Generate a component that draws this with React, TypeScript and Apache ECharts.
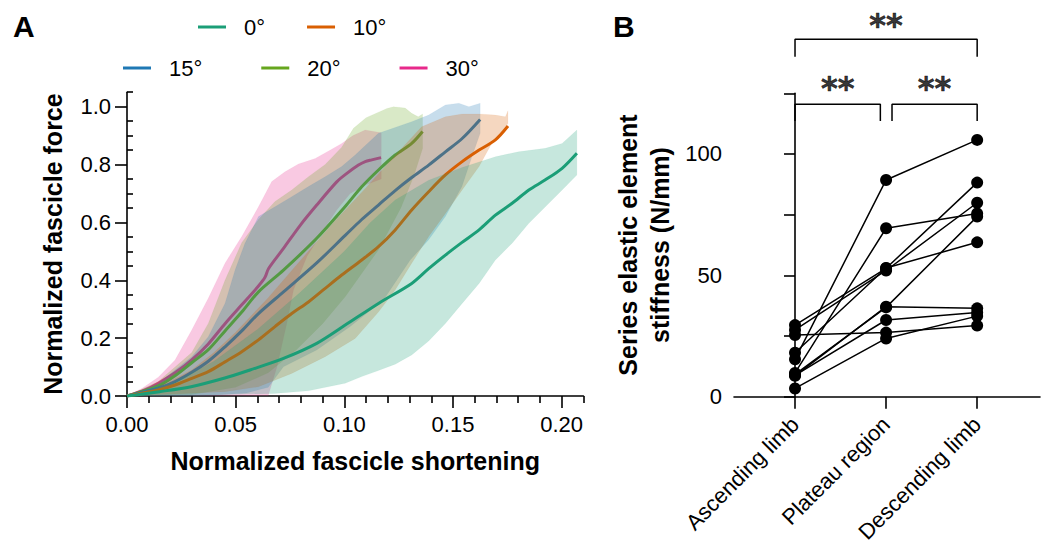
import React, { useEffect, useRef } from 'react';
import * as echarts from 'echarts';

// ---------------- Panel A data ----------------
const angleNames = ['0°', '10°', '15°', '20°', '30°'];
const angleColors = ['#1b9e77', '#d95f02', '#1f78b4', '#66a61e', '#e7298a'];

// mean curves [shortening, force]
const mean0 = [[0, 0], [0.015, 0.015], [0.03, 0.033], [0.045, 0.062], [0.0566, 0.09], [0.072, 0.13], [0.0873, 0.182], [0.1004, 0.245], [0.1157, 0.32], [0.131, 0.389], [0.1388, 0.44], [0.1465, 0.487], [0.154, 0.53], [0.162, 0.574], [0.1695, 0.625], [0.1772, 0.666], [0.1849, 0.712], [0.1925, 0.747], [0.2002, 0.787], [0.207, 0.839]];
const mean10 = [[0, 0], [0.0144, 0.021], [0.0221, 0.038], [0.0298, 0.061], [0.0374, 0.084], [0.0451, 0.118], [0.0528, 0.153], [0.0605, 0.194], [0.0681, 0.24], [0.0758, 0.285], [0.0835, 0.325], [0.0912, 0.372], [0.0988, 0.418], [0.108, 0.47], [0.1157, 0.516], [0.1234, 0.574], [0.131, 0.643], [0.1388, 0.706], [0.1465, 0.764], [0.1542, 0.81], [0.162, 0.85], [0.1695, 0.885], [0.1753, 0.933]];
const mean15 = [[0, 0], [0.0144, 0.027], [0.0221, 0.05], [0.0298, 0.082], [0.0374, 0.12], [0.0451, 0.17], [0.0528, 0.225], [0.0605, 0.285], [0.072, 0.36], [0.0873, 0.46], [0.1004, 0.555], [0.108, 0.61], [0.1157, 0.66], [0.1234, 0.71], [0.131, 0.755], [0.1388, 0.798], [0.1465, 0.844], [0.1542, 0.89], [0.1625, 0.956]];
const mean20 = [[0, 0], [0.0144, 0.035], [0.0221, 0.07], [0.0298, 0.115], [0.0374, 0.16], [0.0451, 0.225], [0.0528, 0.29], [0.0605, 0.36], [0.072, 0.435], [0.0873, 0.545], [0.1004, 0.655], [0.108, 0.723], [0.1157, 0.781], [0.1234, 0.833], [0.131, 0.873], [0.136, 0.914]];
const mean30 = [[0, 0], [0.0083, 0.021], [0.0144, 0.044], [0.0221, 0.08], [0.0298, 0.125], [0.0374, 0.18], [0.0451, 0.25], [0.0528, 0.315], [0.0605, 0.38], [0.0635, 0.41], [0.0651, 0.44], [0.072, 0.51], [0.0797, 0.59], [0.0873, 0.66], [0.0965, 0.74], [0.1004, 0.765], [0.1065, 0.798], [0.1096, 0.81], [0.1126, 0.816], [0.1169, 0.824]];

// band edges: upper-left edge and lower-right edge
const upper0 = [[0, 0], [0.02, 0.04], [0.04, 0.12], [0.06, 0.23], [0.08, 0.36], [0.1, 0.5], [0.112, 0.6], [0.1234, 0.677], [0.1388, 0.746], [0.1542, 0.79], [0.1695, 0.827], [0.1801, 0.844], [0.1925, 0.856], [0.2002, 0.873], [0.207, 0.919]];
const lower0 = [[0, 0], [0.03, 0.002], [0.068, 0.009], [0.0835, 0.018], [0.1004, 0.044], [0.108, 0.067], [0.1157, 0.088], [0.1234, 0.11], [0.131, 0.142], [0.1388, 0.19], [0.1465, 0.251], [0.1542, 0.32], [0.162, 0.389], [0.1695, 0.47], [0.1772, 0.528], [0.1849, 0.597], [0.1925, 0.654], [0.2002, 0.712], [0.207, 0.764]];
const upper10 = [[0, 0], [0.0144, 0.03], [0.0298, 0.09], [0.04, 0.15], [0.05, 0.22], [0.065, 0.34], [0.08, 0.47], [0.095, 0.6], [0.11, 0.72], [0.122, 0.82], [0.1356, 0.931], [0.1465, 0.965], [0.1542, 0.975], [0.162, 0.975], [0.1695, 0.971], [0.1741, 0.965], [0.1753, 0.986]];
const lower10 = [[0, 0], [0.0451, 0.015], [0.0605, 0.032], [0.0758, 0.078], [0.0912, 0.136], [0.105, 0.199], [0.1157, 0.29], [0.1234, 0.366], [0.131, 0.459], [0.1388, 0.551], [0.1465, 0.631], [0.1542, 0.712], [0.162, 0.793], [0.1678, 0.873], [0.1753, 0.942]];
const upper15 = [[0, 0], [0.0144, 0.044], [0.0298, 0.136], [0.0374, 0.205], [0.0451, 0.32], [0.0497, 0.435], [0.0543, 0.528], [0.0605, 0.62], [0.0681, 0.654], [0.0758, 0.689], [0.0835, 0.724], [0.0912, 0.758], [0.0988, 0.793], [0.105, 0.833], [0.1157, 0.908], [0.131, 0.948], [0.1388, 0.971], [0.1465, 1.006], [0.1527, 1.012], [0.1573, 1.0], [0.1625, 1.012]];
const lower15 = [[0, 0], [0.04, 0.003], [0.055, 0.01], [0.065, 0.03], [0.072, 0.101], [0.0873, 0.159], [0.1027, 0.24], [0.118, 0.332], [0.1303, 0.47], [0.1388, 0.54], [0.1465, 0.62], [0.1541, 0.724], [0.1587, 0.827], [0.1625, 0.908]];
const upper20 = [[0, 0], [0.0144, 0.05], [0.0298, 0.15], [0.0374, 0.251], [0.0451, 0.4], [0.0528, 0.53], [0.0605, 0.61], [0.0681, 0.672], [0.0758, 0.712], [0.0835, 0.758], [0.0912, 0.8], [0.0988, 0.86], [0.1042, 0.925], [0.11, 0.962], [0.1196, 0.994], [0.1226, 1.0], [0.128, 0.995], [0.131, 0.977], [0.134, 0.965], [0.136, 0.975]];
const lower20 = [[0, 0], [0.03, 0.005], [0.05, 0.03], [0.065, 0.08], [0.078, 0.16], [0.09, 0.25], [0.1004, 0.343], [0.1157, 0.505], [0.126, 0.65], [0.132, 0.76], [0.136, 0.855]];
const upper30 = [[0, 0], [0.0068, 0.026], [0.0144, 0.065], [0.0221, 0.124], [0.0298, 0.228], [0.0374, 0.338], [0.0451, 0.459], [0.0528, 0.551], [0.0605, 0.654], [0.0666, 0.741], [0.0727, 0.775], [0.0789, 0.802], [0.0866, 0.821], [0.0942, 0.853], [0.0988, 0.873], [0.104, 0.9], [0.1096, 0.919], [0.117, 0.91]];
const lower30 = [[0, 0], [0.03, 0.002], [0.065, 0.002], [0.069, 0.1], [0.0735, 0.25], [0.0766, 0.366], [0.0797, 0.424], [0.0828, 0.482], [0.0904, 0.574], [0.0965, 0.643], [0.1027, 0.7], [0.11, 0.73], [0.117, 0.75]];

const means = [mean0, mean10, mean15, mean20, mean30];
const uppers = [upper0, upper10, upper15, upper20, upper30];
const lowers = [lower0, lower10, lower15, lower20, lower30];

const xMajorTicks = [0, 0.05, 0.1, 0.15, 0.2];
const xMinorTicks = [0.01, 0.02, 0.03, 0.04, 0.06, 0.07, 0.08, 0.09, 0.11, 0.12, 0.13, 0.14, 0.16, 0.17, 0.18, 0.19, 0.21];
const yMajorTicks = [0, 0.2, 0.4, 0.6, 0.8, 1.0];
const yMinorTicks = [0.05, 0.1, 0.15, 0.25, 0.3, 0.35, 0.45, 0.5, 0.55, 0.65, 0.7, 0.75, 0.85, 0.9, 0.95, 1.05];

// ---------------- Panel B data ----------------
const phases = ['Ascending limb', 'Plateau region', 'Descending limb'];
const ascending = [15.4, 9.8, 29.5, 27.5, 18.1, 9.2, 8.6, 8.8, 25.4, 3.4];
const plateau = [89.3, 69.4, 52.9, 52.0, 53.0, 36.8, 37.1, 31.6, 26.4, 24.0];
const descending = [105.8, 75.5, 88.2, 79.9, 63.6, 74.2, 36.4, 34.7, 29.3, 33.2];
const stiffTicks = [0, 25, 50, 75, 100, 125];
const stiffLabels = [0, 50, 100];
const brackets = [
  [[0, 140.1], [0, 147.3], [2, 147.3], [2, 140.1]],
  [[0, 113.6], [0, 120.5], [0.937, 120.5], [0.937, 113.6]],
  [[1.065, 113.6], [1.065, 120.5], [2, 120.5], [2, 113.6]],
];
const sigMarks = [[1, 153], [0.468, 127.2], [1.532, 127.2]];

const FONT = '"Liberation Sans", Arial, Helvetica, sans-serif';

function buildOption() {
  const axisLine = { show: true, lineStyle: { color: '#000', width: 1.6 } };
  const tickStyle = { color: '#000', width: 1.6 };
  const n = angleNames.length;

  // later angles are drawn first, so earlier angles' bands cover them
  const lineSeries = means.map((m, i) => ({
    type: 'line',
    name: angleNames[i],
    xAxisIndex: 0,
    yAxisIndex: 0,
    data: m,
    color: angleColors[i],
    symbol: 'none',
    showSymbol: false,
    smooth: 0.3,
    lineStyle: { width: 3, color: angleColors[i] },
    z: 2 * (n - 1 - i) + 2,
    silent: true,
  }));

  const bandSeries = uppers.map((up, i) => ({
    type: 'custom',
    name: angleNames[i] + ' band',
    xAxisIndex: 0,
    yAxisIndex: 0,
    data: [[up[0][0], up[0][1]]],
    z: 2 * (n - 1 - i) + 1,
    silent: true,
    renderItem: (params: any, api: any) => {
      const pts = up.concat(lowers[i].slice().reverse()).map((p) => api.coord(p));
      return {
        type: 'polygon',
        shape: { points: pts },
        style: { fill: angleColors[i], opacity: 0.25, stroke: angleColors[i], lineWidth: 0.6, strokeOpacity: 0.3 },
      };
    },
  }));

  const subjectSeries = ascending.map((a, i) => ({
    type: 'line',
    xAxisIndex: 2,
    yAxisIndex: 2,
    data: [[0, a], [1, plateau[i]], [2, descending[i]]],
    symbol: 'circle',
    symbolSize: 12,
    itemStyle: { color: '#000' },
    lineStyle: { color: '#000', width: 1.5 },
    z: 5,
    silent: true,
  }));

  const bracketSeries = brackets.map((b) => ({
    type: 'line',
    xAxisIndex: 2,
    yAxisIndex: 2,
    data: b,
    symbol: 'none',
    clip: false,
    lineStyle: { color: '#000', width: 1.5 },
    silent: true,
  }));

  const sigSeries = {
    type: 'scatter',
    xAxisIndex: 2,
    yAxisIndex: 2,
    clip: false,
    symbolSize: 1,
    itemStyle: { color: 'rgba(0,0,0,0)' },
    silent: true,
    data: sigMarks,
    label: {
      show: true,
      position: 'inside',
      formatter: '**',
      fontFamily: '"DejaVu Sans", sans-serif',
      fontWeight: 'bold',
      fontSize: 32,
      color: '#000',
      textBorderColor: '#000',
      textBorderWidth: 0.6,
    },
  };

  const legendText = { fontSize: 22, color: '#000', fontFamily: FONT, padding: [0, 0, 0, 13] };

  return {
    animation: false,
    backgroundColor: '#fff',
    title: [
      { text: 'A', left: 8, top: 6, textStyle: { fontSize: 30, fontWeight: 'bold', fontFamily: FONT, color: '#000' } },
      { text: 'B', left: 608, top: 6, textStyle: { fontSize: 30, fontWeight: 'bold', fontFamily: FONT, color: '#000' } },
    ],
    legend: [
      { data: angleNames.slice(0, 2), left: 193, top: 11, icon: 'rect', itemWidth: 28, itemHeight: 3, itemGap: 42, selectedMode: false, textStyle: legendText },
      { data: angleNames.slice(2), left: 118, top: 52, icon: 'rect', itemWidth: 28, itemHeight: 3, itemGap: 59, selectedMode: false, textStyle: legendText },
    ],
    grid: [
      { left: 127, top: 92.2, width: 456.4, height: 303.8 },
      { left: 734, top: 93.3, width: 306, height: 303.4 },
      { left: 749.5, top: 93.3, width: 273, height: 303.4 },
    ],
    xAxis: [
      {
        type: 'value', gridIndex: 0, min: 0, max: 0.21,
        axisLine,
        axisTick: { show: true, length: 12, lineStyle: tickStyle, customValues: xMajorTicks },
        axisLabel: { customValues: xMajorTicks, formatter: (v: number) => v.toFixed(2), fontSize: 22, color: '#000', fontFamily: FONT, margin: 17 },
        splitLine: { show: false },
        name: 'Normalized fascicle shortening', nameLocation: 'middle', nameGap: 52,
        nameTextStyle: { fontSize: 25, fontWeight: 'bold', color: '#000', fontFamily: FONT },
      },
      {
        type: 'value', gridIndex: 0, min: 0, max: 0.21, position: 'bottom',
        axisLine: { show: false },
        axisTick: { show: true, length: 7, lineStyle: tickStyle, customValues: xMinorTicks },
        axisLabel: { show: false },
        splitLine: { show: false },
      },
      {
        type: 'value', gridIndex: 1, min: -0.67, max: 2.69,
        axisLine,
        axisTick: { show: false },
        axisLabel: { show: false },
        splitLine: { show: false },
      },
      {
        type: 'category', gridIndex: 2, data: phases,
        axisLine: { show: false },
        axisTick: { show: true, alignWithLabel: true, length: 12, lineStyle: tickStyle },
        axisLabel: { rotate: 45, interval: 0, fontSize: 22, color: '#000', fontFamily: FONT, margin: 24 },
        splitLine: { show: false },
      },
    ],
    yAxis: [
      {
        type: 'value', gridIndex: 0, min: 0, max: 1.05,
        axisLine,
        axisTick: { show: true, length: 12, lineStyle: tickStyle, customValues: yMajorTicks },
        axisLabel: { customValues: yMajorTicks, formatter: (v: number) => v.toFixed(1), fontSize: 22, color: '#000', fontFamily: FONT, margin: 16 },
        splitLine: { show: false },
        name: 'Normalized fascicle force', nameLocation: 'middle', nameGap: 62,
        nameTextStyle: { fontSize: 25, fontWeight: 'bold', color: '#000', fontFamily: FONT },
      },
      {
        type: 'value', gridIndex: 0, min: 0, max: 1.05, position: 'left',
        axisLine: { show: false },
        axisTick: { show: true, inside: true, length: 6, lineStyle: tickStyle, customValues: yMinorTicks },
        axisLabel: { show: false },
        splitLine: { show: false },
      },
      {
        type: 'value', gridIndex: 1, min: 0, max: 125,
        axisLine,
        axisTick: { show: true, length: 11, lineStyle: tickStyle, customValues: stiffTicks },
        axisLabel: { customValues: stiffLabels, fontSize: 22, color: '#000', fontFamily: FONT, margin: 12 },
        splitLine: { show: false },
        name: 'Series elastic element\nstiffness (N/mm)', nameLocation: 'middle', nameGap: 58,
        nameTextStyle: { fontSize: 25, fontWeight: 'bold', color: '#000', fontFamily: FONT, lineHeight: 32 },
      },
      {
        type: 'value', gridIndex: 2, min: 0, max: 125, show: false,
      },
    ],
    series: [...bandSeries, ...lineSeries, ...subjectSeries, ...bracketSeries, sigSeries],
  };
}

export default function App() {
  const ref = useRef<HTMLDivElement>(null);
  useEffect(() => {
    if (!ref.current) return;
    const chart = echarts.init(ref.current, undefined, { renderer: 'svg' });
    chart.setOption(buildOption() as any);
    return () => chart.dispose();
  }, []);
  return (
    <div
      ref={ref}
      style={{ position: 'absolute', left: 0, top: 0, width: 1044, height: 548, background: '#fff' }}
    />
  );
}
